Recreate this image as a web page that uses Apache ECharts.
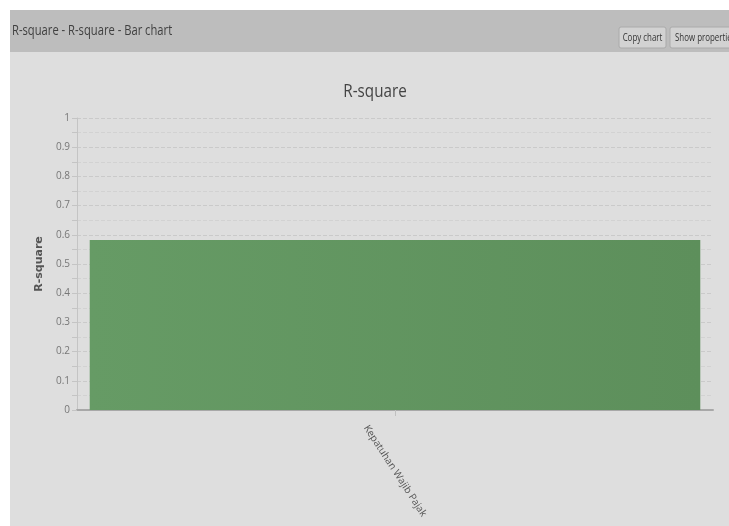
<!DOCTYPE html>
<html><head><meta charset="utf-8">
<script src="https://cdn.jsdelivr.net/npm/echarts@6/dist/echarts.min.js"></script>
<style>html,body{margin:0;padding:0;background:#fff;}#c{width:729px;height:526px;}</style>
</head><body><div id="c"></div>
<script>
const categories = ["Kepatuhan Wajib Pajak"];
const values = [0.582];
const yTicks = [0, 0.1, 0.2, 0.3, 0.4, 0.5, 0.6, 0.7, 0.8, 0.9, 1];
const titleText = "R-square";
const headerText = "R-square - R-square - Bar chart";
const FONT = "'Open Sans',sans-serif";
const chart = echarts.init(document.getElementById('c'));
chart.setOption({
  backgroundColor: '#fff',
  animation: false,
  graphic: [
    {type:'rect', x:10, y:52, shape:{width:719, height:474}, style:{fill:'#dedede'}, z:-10},
    {type:'rect', x:10, y:10, shape:{width:719, height:42}, style:{fill:'#bdbdbd'}, z:-9},
    {type:'text', x:12, y:31, scaleX:0.8, style:{text:headerText, font:"14px "+FONT, fill:'#3f3f3f', textVerticalAlign:'middle'}},
    {type:'rect', x:619, y:27, shape:{width:47, height:21, r:2}, style:{fill:'#d2d2d2', stroke:'#aaaaaa'}},
    {type:'text', x:642.5, y:37.5, scaleX:0.72, style:{text:'Copy chart', font:"11px "+FONT, fill:'#333', textAlign:'center', textVerticalAlign:'middle'}},
    {type:'rect', x:670, y:27, shape:{width:70, height:21, r:2}, style:{fill:'#d2d2d2', stroke:'#aaaaaa'}},
    {type:'text', x:675, y:37.5, scaleX:0.72, style:{text:'Show properties', font:"11px "+FONT, fill:'#333', textVerticalAlign:'middle'}},
    {type:'text', x:375, y:92, scaleX:0.8, style:{text:titleText, font:"19px "+FONT, fill:'#444', textAlign:'center', textVerticalAlign:'middle'}}
  ],
  grid: {left:77, right:16, top:118, bottom:116, containLabel:false},
  xAxis: {type:'category', data:categories,
    axisLine:{lineStyle:{color:'#a8a8a8', width:2}},
    axisTick:{show:true, alignWithLabel:true, lineStyle:{color:'#c0c0c0'}, length:6},
    axisLabel:{rotate:-57, align:'center', verticalAlign:'middle', color:'#555', fontFamily:FONT, fontSize:10, margin:61}},
  yAxis: {type:'value', min:0, max:1, interval:0.1,
    name:'R-square', nameLocation:'middle', nameGap:20,
    nameTextStyle:{fontFamily:"'DejaVu Sans',sans-serif", fontSize:11, fontWeight:'bold', color:'#555'},
    axisLine:{show:true, lineStyle:{color:'#c4c4c4'}},
    axisTick:{show:true, length:5, lineStyle:{color:'#c4c4c4'}},
    minorTick:{show:true, splitNumber:2, length:5, lineStyle:{color:'#c4c4c4'}},
    splitLine:{show:true, lineStyle:{color:'#cacaca', type:'dashed'}},
    minorSplitLine:{show:true, lineStyle:{color:'#d2d2d2', type:'dashed'}},
    axisLabel:{color:'#777', fontFamily:FONT, fontSize:10, margin:7,
      formatter: v => String(yTicks.find(t => Math.abs(t - v) < 1e-9) ?? v)}},
  series: [{type:'bar', data:values, barWidth:'96%',
    itemStyle:{color:{type:'linear', x:0, y:0, x2:1, y2:0,
      colorStops:[{offset:0, color:'#669b65'},{offset:1, color:'#5d8f5b'}]}}}]
});
</script></body></html>
